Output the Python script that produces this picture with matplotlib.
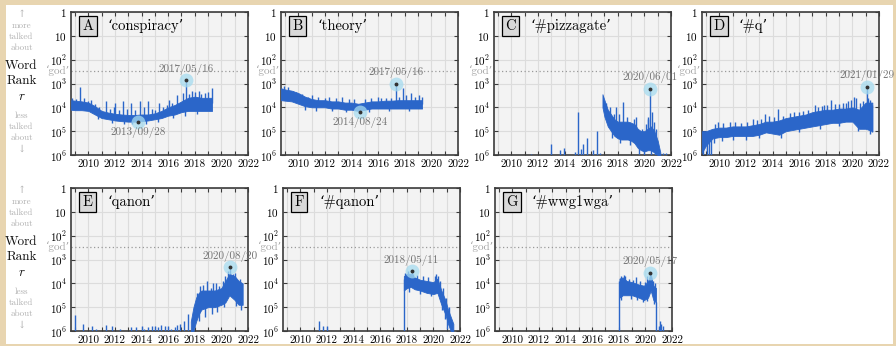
import numpy as np
import matplotlib
matplotlib.use("Agg")
import matplotlib.pyplot as plt
from matplotlib.patches import Rectangle
from matplotlib.ticker import FixedLocator, NullLocator
import matplotlib.transforms as mtransforms

plt.rcParams['font.family'] = ['cmr10', 'DejaVu Serif']
plt.rcParams['mathtext.fontset'] = 'cm'
plt.rcParams['axes.unicode_minus'] = False

# ---------------- data (ranks given as log10 exponents) ----------------
GOD_RANK = 300
letters = ['A', 'B', 'C', 'D', 'E', 'F', 'G']
words = ['‘conspiracy’', '‘theory’', '‘#pizzagate’', '‘#q’', '‘qanon’', '‘#qanon’', '‘#wwg1wga’']

# A 'conspiracy'
a_years = [2008.7, 2009.0, 2009.5, 2010.0, 2010.5, 2011.0, 2011.5, 2012.0, 2012.5, 2013.0, 2013.5, 2014.0,
           2014.5, 2015.0, 2015.5, 2016.0, 2016.5, 2017.0, 2017.5, 2018.0, 2018.5, 2019.0, 2019.3]
a_top = [3.7, 3.72, 3.75, 3.8, 3.95, 4.15, 4.22, 4.27, 4.3, 4.32, 4.32, 4.3, 4.3, 4.25, 4.15, 4.0, 3.9,
         3.75, 3.6, 3.55, 3.6, 3.6, 3.6]
a_bot = [4.1, 4.12, 4.12, 4.15, 4.3, 4.45, 4.5, 4.55, 4.58, 4.6, 4.6, 4.58, 4.55, 4.5, 4.45, 4.35, 4.3,
         4.2, 4.15, 4.15, 4.15, 4.15, 4.15]
a_spk_x = [2009.4, 2010.2, 2011.3, 2012.0, 2012.6, 2013.2, 2013.9, 2014.5, 2015.3, 2016.1, 2016.7, 2017.37,
           2017.8, 2018.3, 2018.8, 2019.28, 2013.74,
           2008.8, 2009.1, 2009.7, 2010.0, 2010.5, 2010.8, 2011.6, 2011.9, 2012.3, 2012.9, 2013.5, 2014.2,
           2014.8, 2015.0, 2015.6, 2015.9, 2016.3, 2017.1, 2017.6, 2018.0, 2018.5, 2019.0,
           2010.7, 2011.8, 2012.7, 2013.3, 2014.3, 2015.2, 2016.4, 2017.3, 2018.2]
a_spk_base = [3.9, 4.0, 4.3, 4.35, 4.35, 4.4, 4.4, 4.4, 4.35, 4.2, 4.1, 3.7, 3.8, 3.8, 3.8, 3.8, 4.4,
              3.9, 3.9, 3.9, 4.0, 4.1, 4.2, 4.35, 4.4, 4.4, 4.45, 4.45, 4.45, 4.4, 4.4, 4.3, 4.2, 4.15,
              4.0, 3.9, 3.85, 3.85, 3.85,
              4.2, 4.4, 4.45, 4.45, 4.45, 4.4, 4.15, 4.0, 3.9]
a_spk_val = [3.15, 3.7, 3.75, 3.8, 3.75, 3.8, 3.75, 3.75, 3.8, 3.7, 3.5, 2.87, 3.3, 3.3, 3.4, 3.2, 4.63,
             3.6, 3.65, 3.6, 3.75, 3.85, 4.0, 4.05, 4.0, 4.1, 4.05, 4.1, 4.0, 4.05, 4.1, 4.0, 3.9, 3.8,
             3.4, 3.45, 3.35, 3.45, 3.35,
             4.5, 4.65, 4.7, 4.7, 4.68, 4.6, 4.45, 4.35, 4.3]
a_marks = [(2017.37, 2.87, '2017/05/16', 'up'), (2013.74, 4.63, '2013/09/28', 'down')]

# B 'theory'
b_years = a_years
b_top = [3.2, 3.25, 3.3, 3.4, 3.55, 3.65, 3.7, 3.7, 3.75, 3.75, 3.8, 3.8, 3.85, 3.8, 3.75, 3.75, 3.72,
         3.72, 3.7, 3.7, 3.7, 3.7, 3.7]
b_bot = [3.7, 3.72, 3.75, 3.85, 3.95, 4.0, 4.0, 4.0, 4.05, 4.05, 4.1, 4.1, 4.15, 4.1, 4.05, 4.05, 4.05,
         4.05, 4.05, 4.05, 4.05, 4.05, 4.05]
b_spk_x = [2008.9, 2009.6, 2011.0, 2012.3, 2013.3, 2016.2, 2017.37, 2017.9, 2018.5, 2019.1, 2014.65,
           2009.2, 2009.8, 2010.3, 2010.7, 2011.5, 2012.0, 2012.8, 2013.8, 2014.2, 2015.0, 2015.5, 2016.0,
           2016.6, 2017.0, 2017.6, 2018.1, 2018.8, 2019.3,
           2010.5, 2011.3, 2012.5, 2013.6, 2015.3, 2016.8, 2018.3]
b_spk_base = [3.5, 3.5, 3.8, 3.85, 3.9, 3.9, 3.85, 3.85, 3.85, 3.85, 4.0,
              3.5, 3.6, 3.7, 3.8, 3.85, 3.85, 3.9, 3.95, 3.95, 3.95, 3.9, 3.9, 3.9, 3.9, 3.85, 3.85, 3.85,
              3.85,
              3.8, 3.85, 3.9, 3.95, 3.95, 3.9, 3.9]
b_spk_val = [3.1, 3.3, 3.5, 3.55, 3.55, 3.6, 3.0, 3.2, 3.4, 3.5, 4.21,
             3.15, 3.35, 3.45, 3.55, 3.55, 3.6, 3.6, 3.65, 3.65, 3.65, 3.6, 3.55, 3.6, 3.6, 3.55, 3.5,
             3.55, 3.55,
             4.1, 4.15, 4.15, 4.2, 4.2, 4.15, 4.15]
b_marks = [(2017.37, 3.0, '2017/05/16', 'up'), (2014.65, 4.21, '2014/08/24', 'down')]

# C '#pizzagate'
c_years = [2016.85, 2017.0, 2017.25, 2017.5, 2017.75, 2018.0, 2018.25, 2018.5, 2018.75, 2019.0, 2019.25,
           2019.5, 2019.75, 2020.0, 2020.25, 2020.5, 2020.75, 2021.0, 2021.2]
c_top = [3.45, 3.7, 4.1, 4.3, 4.5, 4.6, 4.6, 4.6, 4.6, 4.65, 4.7, 4.9, 5.0, 5.0, 4.9, 4.8, 5.0, 5.4, 5.9]
c_bot = [4.0, 4.4, 4.8, 5.0, 5.2, 5.3, 5.35, 5.35, 5.35, 5.4, 5.5, 5.7, 5.8, 5.85, 5.8, 5.8, 5.9, 6.0, 6.0]
c_spk_x = [2011.5, 2012.97, 2013.69, 2013.97, 2014.75, 2015.0, 2015.27, 2015.42, 2015.7, 2016.16, 2016.43,
           2016.7, 2017.9, 2018.4, 2018.95, 2019.85, 2020.3, 2020.42, 2020.6, 2021.4, 2021.6,
           2017.1, 2017.4, 2017.7, 2018.1, 2018.7, 2019.2, 2019.4, 2020.1, 2020.25, 2020.7, 2020.9,
           2017.6, 2018.2, 2018.9, 2019.6, 2020.0, 2020.5, 2020.8]
c_spk_base = [6.0, 6.0, 6.0, 6.0, 6.0, 6.0, 6.0, 6.0, 6.0, 6.0, 6.0, 6.0, 4.8, 4.9, 5.0, 5.4, 5.3, 5.0,
              5.3, 6.0, 6.0,
              4.2, 4.5, 4.8, 4.9, 5.0, 5.0, 5.1, 5.4, 5.3, 5.3, 5.4,
              4.7, 4.9, 5.0, 5.3, 5.4, 5.3, 5.4]
c_spk_val = [5.95, 5.52, 5.78, 5.7, 5.86, 4.18, 5.75, 5.55, 5.27, 5.79, 4.98, 5.9, 4.0, 3.76, 4.6, 4.9,
             4.5, 3.22, 4.2, 5.9, 5.92,
             3.8, 4.0, 4.3, 4.3, 4.4, 4.5, 4.4, 4.7, 4.4, 4.6, 4.9,
             5.3, 5.5, 5.6, 5.95, 6.0, 6.0, 6.0]
c_marks = [(2020.42, 3.22, '2020/06/01', 'up')]

# D '#q'
d_years = [2008.7, 2009.0, 2009.5, 2010.0, 2010.5, 2011.0, 2011.5, 2012.0, 2012.5, 2013.0, 2013.5, 2014.0,
           2014.5, 2015.0, 2015.5, 2016.0, 2016.5, 2017.0, 2017.5, 2018.0, 2018.5, 2019.0, 2019.5, 2020.0,
           2020.5, 2021.0, 2021.5]
d_top = [5.0, 5.0, 4.9, 4.85, 4.85, 4.8, 4.8, 4.8, 4.75, 4.7, 4.6, 4.6, 4.55, 4.45, 4.4, 4.35, 4.3, 4.2,
         4.15, 4.1, 4.1, 4.05, 4.05, 4.0, 4.1, 3.8, 3.8]
d_bot = [5.9, 5.6, 5.3, 5.25, 5.25, 5.2, 5.2, 5.2, 5.2, 5.15, 5.05, 5.1, 5.15, 5.0, 4.95, 4.9, 4.85, 4.8,
         4.75, 4.7, 4.65, 4.65, 4.6, 4.6, 4.9, 4.9, 5.0]
d_spk_x = [2008.75, 2009.05, 2009.2, 2009.4, 2009.9, 2011.2, 2012.5, 2013.4, 2014.4, 2015.3, 2016.0, 2017.2,
           2017.9, 2018.4, 2019.3, 2019.7, 2020.1, 2020.3, 2020.8, 2021.08, 2021.3, 2021.45,
           2009.7, 2010.3, 2010.8, 2011.6, 2012.1, 2012.8, 2013.1, 2013.7, 2014.1, 2014.8, 2015.6, 2016.3,
           2016.7, 2017.4, 2017.7, 2018.1, 2018.7, 2019.0, 2019.5, 2019.9, 2020.6, 2021.2,
           2009.6, 2010.2, 2011.0, 2012.0, 2013.0, 2014.6, 2016.0, 2017.6, 2019.0, 2020.4, 2021.35, 2021.5]
d_spk_base = [5.5, 5.5, 5.3, 5.2, 5.0, 5.0, 5.0, 4.9, 4.8, 4.7, 4.6, 4.5, 4.4, 4.4, 4.3, 4.3, 4.3, 4.3,
              4.4, 4.3, 4.3, 4.4,
              5.0, 5.0, 5.0, 5.0, 5.0, 4.95, 4.9, 4.8, 4.8, 4.75, 4.65, 4.6, 4.55, 4.45, 4.45, 4.4, 4.35,
              4.35, 4.3, 4.3, 4.5, 4.35,
              5.1, 5.05, 5.0, 5.0, 4.95, 4.85, 4.6, 4.45, 4.35, 4.5, 4.35, 4.4]
d_spk_val = [6.0, 6.0, 6.0, 6.0, 4.6, 4.6, 4.5, 4.3, 4.07, 4.25, 4.2, 3.9, 3.9, 3.7, 3.8, 3.75, 3.55,
             3.6, 3.75, 3.13, 3.7, 3.9,
             4.7, 4.65, 4.6, 4.65, 4.6, 4.55, 4.5, 4.35, 4.4, 4.35, 4.2, 4.15, 4.1, 4.0, 3.95, 3.9, 3.85,
             3.85, 3.8, 3.7, 3.8, 3.6,
             5.5, 5.4, 5.35, 5.35, 5.3, 5.3, 5.05, 4.9, 4.8, 5.0, 5.1, 5.05]
d_marks = [(2021.08, 3.13, '2021/01/29', 'up')]

# E 'qanon'
e_years = [2017.7, 2017.9, 2018.1, 2018.3, 2018.5, 2019.0, 2019.5, 2020.0, 2020.3, 2020.6, 2021.0,
           2021.3, 2021.6]
e_top = [5.6, 5.0, 4.6, 4.4, 4.3, 4.3, 4.3, 4.2, 3.9, 3.6, 3.7, 3.9, 4.0]
e_bot = [6.0, 6.0, 5.6, 5.3, 5.1, 5.0, 5.0, 4.9, 4.8, 4.5, 4.7, 4.9, 4.9]
e_spk_x = [2009.0, 2009.6, 2010.3, 2010.6, 2011.3, 2011.8, 2012.4, 2013.2, 2014.0, 2014.5, 2015.0,
           2015.5, 2016.0, 2016.5, 2016.9, 2017.2, 2017.5, 2018.9, 2019.6, 2020.1, 2020.64, 2020.9, 2021.2,
           2018.2, 2018.4, 2018.6, 2019.2, 2019.4, 2019.8, 2020.3, 2020.5, 2021.0, 2021.4,
           2018.3, 2018.8, 2019.3, 2019.7, 2020.2, 2021.1, 2021.5,
           2013.6, 2014.2, 2014.8, 2015.2, 2015.8, 2016.2, 2016.7]
e_spk_base = [6.0] * 17 + [4.6, 4.6, 4.5, 4.0, 4.1, 4.3] + \
             [4.9, 4.8, 4.7, 4.6, 4.6, 4.6, 4.3, 4.1, 4.2, 4.4] + \
             [4.8, 4.6, 4.6, 4.6, 4.5, 4.3, 4.5] + [6.0] * 7
e_spk_val = [5.33, 5.7, 5.8, 5.9, 5.75, 5.8, 5.9, 5.85, 5.8, 5.85, 5.8, 5.75, 5.8, 5.85, 5.7, 5.6, 5.3,
             3.9, 4.0, 3.9, 3.32, 3.6, 3.9,
             4.4, 4.1, 4.05, 4.2, 4.0, 4.1, 3.7, 3.5, 3.55, 3.8,
             5.6, 5.4, 5.3, 5.2, 5.0, 4.95, 5.1,
             5.85, 5.9, 5.8, 5.85, 5.8, 5.9, 5.75]
e_marks = [(2020.64, 3.32, '2020/08/20', 'up')]

# F '#qanon'
f_years = [2017.78, 2018.0, 2018.3, 2018.6, 2019.0, 2019.5, 2020.0, 2020.3, 2020.6, 2020.9, 2021.1,
           2021.3, 2021.5]
f_top = [3.7, 3.6, 3.6, 3.75, 3.85, 3.9, 3.95, 3.8, 4.3, 4.7, 5.1, 5.4, 5.7]
f_bot = [4.3, 4.2, 4.15, 4.25, 4.3, 4.4, 4.45, 4.4, 4.9, 5.3, 5.7, 6.0, 6.0]
f_spk_x = [2011.4, 2011.73, 2011.98, 2017.76, 2018.36, 2020.2, 2020.35,
           2017.9, 2018.1, 2018.5, 2018.8, 2019.2, 2019.6, 2020.1, 2020.5, 2020.7, 2020.95, 2021.2,
           2018.2, 2019.0, 2019.8, 2020.65, 2020.85, 2021.05]
f_spk_base = [6.0, 6.0, 6.0, 6.0, 3.9, 4.1, 4.1,
              3.9, 3.9, 3.95, 4.0, 4.05, 4.1, 4.2, 4.4, 4.6, 4.9, 5.3,
              3.9, 4.1, 4.2, 4.6, 5.0, 5.4]
f_spk_val = [5.6, 5.8, 5.8, 3.8, 3.49, 3.6, 3.7,
             3.55, 3.5, 3.6, 3.65, 3.7, 3.75, 3.7, 3.9, 4.2, 4.6, 5.0,
             4.35, 4.45, 4.55, 5.1, 5.5, 5.9]
f_marks = [(2018.36, 3.49, '2018/05/11', 'up')]

# G '#wwg1wga'
g_years = [2018.05, 2018.3, 2018.6, 2019.0, 2019.5, 2019.9, 2020.2, 2020.4, 2020.6, 2020.8]
g_top = [3.8, 3.75, 3.9, 3.95, 4.05, 4.1, 3.9, 3.6, 4.1, 4.2]
g_bot = [4.6, 4.5, 4.5, 4.5, 4.6, 4.7, 4.6, 4.3, 4.7, 4.8]
g_spk_x = [2018.02, 2018.5, 2019.3, 2020.38, 2020.82, 2021.0, 2021.1, 2021.2, 2021.35,
           2018.15, 2018.4, 2018.75, 2019.1, 2019.6, 2019.95, 2020.1, 2020.55, 2020.7,
           2018.2, 2018.9, 2019.4, 2019.8, 2020.15, 2020.65]
g_spk_base = [6.0, 4.0, 4.1, 3.9, 4.8, 6.0, 6.0, 6.0, 6.0,
              4.1, 4.1, 4.2, 4.2, 4.3, 4.4, 4.2, 4.4, 4.4,
              4.2, 4.2, 4.3, 4.4, 4.3, 4.4]
g_spk_val = [3.9, 3.7, 3.75, 3.55, 6.0, 5.8, 5.6, 5.7, 5.8,
             3.7, 3.65, 3.8, 3.85, 3.9, 3.95, 3.7, 3.9, 4.0,
             4.7, 4.65, 4.7, 4.8, 4.75, 4.85]
g_marks = [(2020.38, 3.55, '2020/05/17', 'up')]

x_ticks = [2010, 2012, 2014, 2016, 2018, 2020, 2022]
y_tick_labels = ['$1$', '$10$', '$10^{2}$', '$10^{3}$', '$10^{4}$', '$10^{5}$', '$10^{6}$']

panels = [
    (a_years, a_top, a_bot, a_spk_x, a_spk_base, a_spk_val, a_marks),
    (b_years, b_top, b_bot, b_spk_x, b_spk_base, b_spk_val, b_marks),
    (c_years, c_top, c_bot, c_spk_x, c_spk_base, c_spk_val, c_marks),
    (d_years, d_top, d_bot, d_spk_x, d_spk_base, d_spk_val, d_marks),
    (e_years, e_top, e_bot, e_spk_x, e_spk_base, e_spk_val, e_marks),
    (f_years, f_top, f_bot, f_spk_x, f_spk_base, f_spk_val, f_marks),
    (g_years, g_top, g_bot, g_spk_x, g_spk_base, g_spk_val, g_marks),
]

# ---------------- layout ----------------
W, H = 896, 346
fig = plt.figure(figsize=(W / 100, H / 100), dpi=100)
fig.patch.set_facecolor('#e8d5b0')
fig.patches.append(Rectangle((6 / W, 2 / H), (W - 9) / W, (H - 7) / H, transform=fig.transFigure,
                             facecolor='white', edgecolor='none', zorder=-10))

lefts = [[71, 281, 494, 702], [71, 283, 495]]
tops = [12, 188]
aw, ah = 177, 143

BLUE = '#2b66c9'
SPINE = '#3c3c3c'

axes = []
for r, row in enumerate(lefts):
    for lx in row:
        ax = fig.add_axes([lx / W, (H - tops[r] - ah) / H, aw / W, ah / H])
        axes.append(ax)

for i, ax in enumerate(axes):
    yrs, top, bot, sx, sb, sv, marks = panels[i]
    ax.set_facecolor('#f3f3f3')
    ax.set_yscale('log')
    ax.set_xlim(2008.7, 2022.0)
    ax.set_ylim(1e6, 1)
    ax.set_axisbelow(True)
    ax.fill_between(yrs, 10 ** np.array(top), 10 ** np.array(bot), color=BLUE, lw=0.6,
                    edgecolor=BLUE, zorder=3)
    ax.vlines(sx, 10 ** np.array(sb), 10 ** np.array(sv), color=BLUE, lw=1.0, zorder=3)
    ax.axhline(GOD_RANK, ls=(0, (1, 2)), color='#9a9a9a', lw=0.9, zorder=2)
    trans = mtransforms.blended_transform_factory(ax.transAxes, ax.transData)
    ax.text(-0.005, GOD_RANK, '‘god’', transform=trans, ha='right', va='center',
            color='#a3a3a3', fontsize=8, zorder=6)
    for (mx, mv, lab, d) in marks:
        ax.plot([mx], [10 ** mv], 'o', ms=10, color='#a6dbef', alpha=0.75, mec='none', zorder=4)
        ax.plot([mx], [10 ** mv], 'o', ms=1.8, color='#333333', zorder=5)
        off = 8 if d == 'up' else -7.5
        ax.annotate(lab, (mx, 10 ** mv), xytext=(0, off), textcoords='offset points',
                    ha='center', va='center', color='#737373', fontsize=8, zorder=6,
                    annotation_clip=False)
    # ticks
    ax.yaxis.set_major_locator(FixedLocator([10.0 ** k for k in range(7)]))
    ax.yaxis.set_minor_locator(NullLocator())
    ax.set_yticklabels(y_tick_labels)
    ax.set_xticks(x_ticks)
    ax.set_xticklabels([str(t) for t in x_ticks])
    ax.xaxis.set_minor_locator(FixedLocator(list(range(2009, 2022))))
    ax.tick_params(which='both', direction='in', top=True, right=True, length=3, width=0.8,
                   color=SPINE, labelsize=8, pad=3)
    ax.grid(True, which='both', axis='x', color='#dcdcdc', lw=0.8)
    ax.grid(True, which='major', axis='y', color='#dcdcdc', lw=0.8)
    for s in ax.spines.values():
        s.set_color(SPINE)
        s.set_linewidth(1.2)
    ax.text(0.065, 0.9, letters[i], transform=ax.transAxes, fontsize=10.5, ha='left', va='center',
            bbox=dict(boxstyle='square,pad=0.22', fc='#d9d9d9', ec='black', lw=0.9), zorder=7)
    ax.text(0.205, 0.9, words[i], transform=ax.transAxes, fontsize=10.5, ha='left', va='center',
            zorder=7)

# left side labels
side = [(3, '↑', 7, '#b0b0b0'), (14, 'more', 6.5, '#b0b0b0'), (25, 'talked', 6.5, '#b0b0b0'),
        (36, 'about', 6.5, '#b0b0b0'), (54, 'Word', 9.5, '#111111'), (69, 'Rank', 9.5, '#111111'),
        (85, '$r$', 9.5, '#111111'), (104, 'less', 6.5, '#b0b0b0'), (115, 'talked', 6.5, '#b0b0b0'),
        (126, 'about', 6.5, '#b0b0b0'), (138, '↓', 7, '#b0b0b0')]
for t0 in tops:
    for dy, s, fs, col in side:
        fig.text(21.5 / W, 1 - (t0 + dy) / H, s, ha='center', va='center', fontsize=fs, color=col)

fig.savefig('out.png', dpi=100, facecolor=fig.get_facecolor())
